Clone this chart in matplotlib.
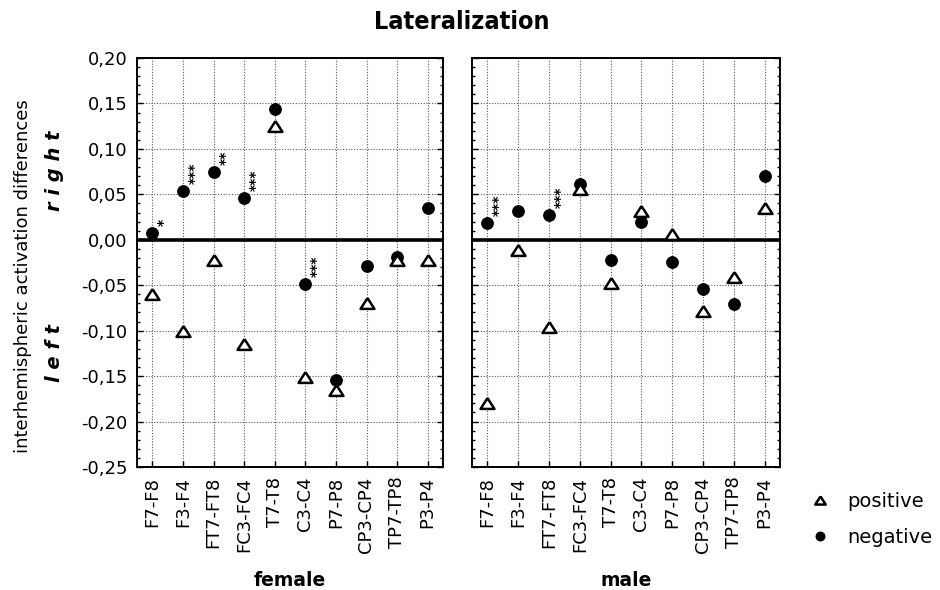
import numpy as np
import matplotlib
matplotlib.use("Agg")
import matplotlib.pyplot as plt
from matplotlib.ticker import MultipleLocator, FuncFormatter

# ---- data ----
categories = ["F7-F8", "F3-F4", "FT7-FT8", "FC3-FC4", "T7-T8",
              "C3-C4", "P7-P8", "CP3-CP4", "TP7-TP8", "P3-P4"]

female_positive = [-0.060, -0.100, -0.022, -0.115, 0.125,
                   -0.151, -0.165, -0.070, -0.022, -0.022]
female_negative = [0.008, 0.054, 0.075, 0.046, 0.144,
                   -0.049, -0.154, -0.029, -0.019, 0.035]
female_sig = ["*", "***", "**", "***", "", "***", "", "", "", ""]

male_positive = [-0.180, -0.011, -0.096, 0.056, -0.048,
                 0.032, 0.006, -0.078, -0.041, 0.035]
male_negative = [0.018, 0.032, 0.027, 0.061, -0.022,
                 0.020, -0.024, -0.054, -0.071, 0.070]
male_sig = ["***", "", "***", "", "", "", "", "", "", ""]

panel_names = ["female", "male"]
series_labels = ["positive", "negative"]
title = "Lateralization"
ylabel = "interhemispheric activation differences"

# ---- figure ----
W, H = 940, 590
fig = plt.figure(figsize=(W / 100, H / 100), dpi=100)

def fx(px):
    return px / W

def fy(py):
    return 1 - py / H

axL = fig.add_axes([fx(137), fy(467), fx(306), 409 / H])
axR = fig.add_axes([fx(472), fy(467), fx(308), 409 / H])

tri = [(0, 0.78), (-1, -0.78), (1, -0.78), (0, 0.78)]
x = np.arange(len(categories))

fmt = FuncFormatter(lambda v, p: ("%.2f" % (0.0 if abs(v) < 1e-9 else v)).replace(".", ","))

handles = None
for ax, pos, neg, sig, name in [(axL, female_positive, female_negative, female_sig, panel_names[0]),
                                (axR, male_positive, male_negative, male_sig, panel_names[1])]:
    ax.set_xlim(-0.5, len(categories) - 0.5)
    ax.set_ylim(-0.25, 0.20)
    ax.yaxis.set_major_locator(MultipleLocator(0.05))
    ax.yaxis.set_minor_locator(MultipleLocator(0.01))
    ax.yaxis.set_major_formatter(fmt)
    ax.set_xticks(x)
    ax.set_xticklabels(categories, rotation=90, fontsize=13)
    ax.grid(True, which="major", color="0.35", linestyle=(0, (1, 1.5)), linewidth=0.8)
    ax.set_axisbelow(True)
    ax.axhline(0, color="black", linewidth=2.6, zorder=2)
    for s in ax.spines.values():
        s.set_linewidth(1.4)
        s.set_color("black")
    ax.tick_params(axis="both", which="major", direction="in", length=4, width=1.0,
                   left=True, right=True, top=False, bottom=True, labelsize=13, pad=7)
    ax.tick_params(axis="y", which="minor", direction="in", length=2.5, width=1.0,
                   left=True, right=True)
    ln_n, = ax.plot(x, neg, linestyle="none", marker="o", markersize=8.2,
                    markerfacecolor="black", markeredgecolor="black", zorder=3,
                    label=series_labels[1])
    ln_p, = ax.plot(x, pos, linestyle="none", marker=tri, markersize=10,
                    markerfacecolor="white", markeredgecolor="black",
                    markeredgewidth=1.8, zorder=4, label=series_labels[0])
    handles = [ln_p, ln_n]
    for xi, yi, s in zip(x, neg, sig):
        if s:
            ax.annotate(s, (xi, yi), xytext=(8.5, 5), textcoords="offset points",
                        rotation=90, ha="center", va="bottom", fontsize=10,
                        fontweight="bold", zorder=5)

axR.tick_params(axis="y", which="both", labelleft=False)

# texts
fig.text(fx(462), fy(22), title, ha="center", va="center", fontsize=18,
         fontweight="bold", fontstretch="condensed")
fig.text(fx(23), fy(276), ylabel, rotation=90, ha="center", va="center", fontsize=13)
fig.text(fx(55), fy(171), "r i g h t", rotation=90, ha="center", va="center",
         fontsize=14, fontweight="bold", fontstyle="italic")
fig.text(fx(55), fy(353), "l e f t", rotation=90, ha="center", va="center",
         fontsize=14, fontweight="bold", fontstyle="italic")
fig.text(fx(290), fy(580), panel_names[0], ha="center", va="center",
         fontsize=13.5, fontweight="bold")
fig.text(fx(626), fy(580), panel_names[1], ha="center", va="center",
         fontsize=13.5, fontweight="bold")

fig.legend(handles, series_labels, loc="upper left",
           bbox_to_anchor=(fx(810), fy(492)), frameon=False, fontsize=14,
           handlelength=1.0, handletextpad=0.9, labelspacing=0.85,
           markerscale=0.75, borderpad=0, borderaxespad=0)

fig.savefig("out.png", dpi=100)
